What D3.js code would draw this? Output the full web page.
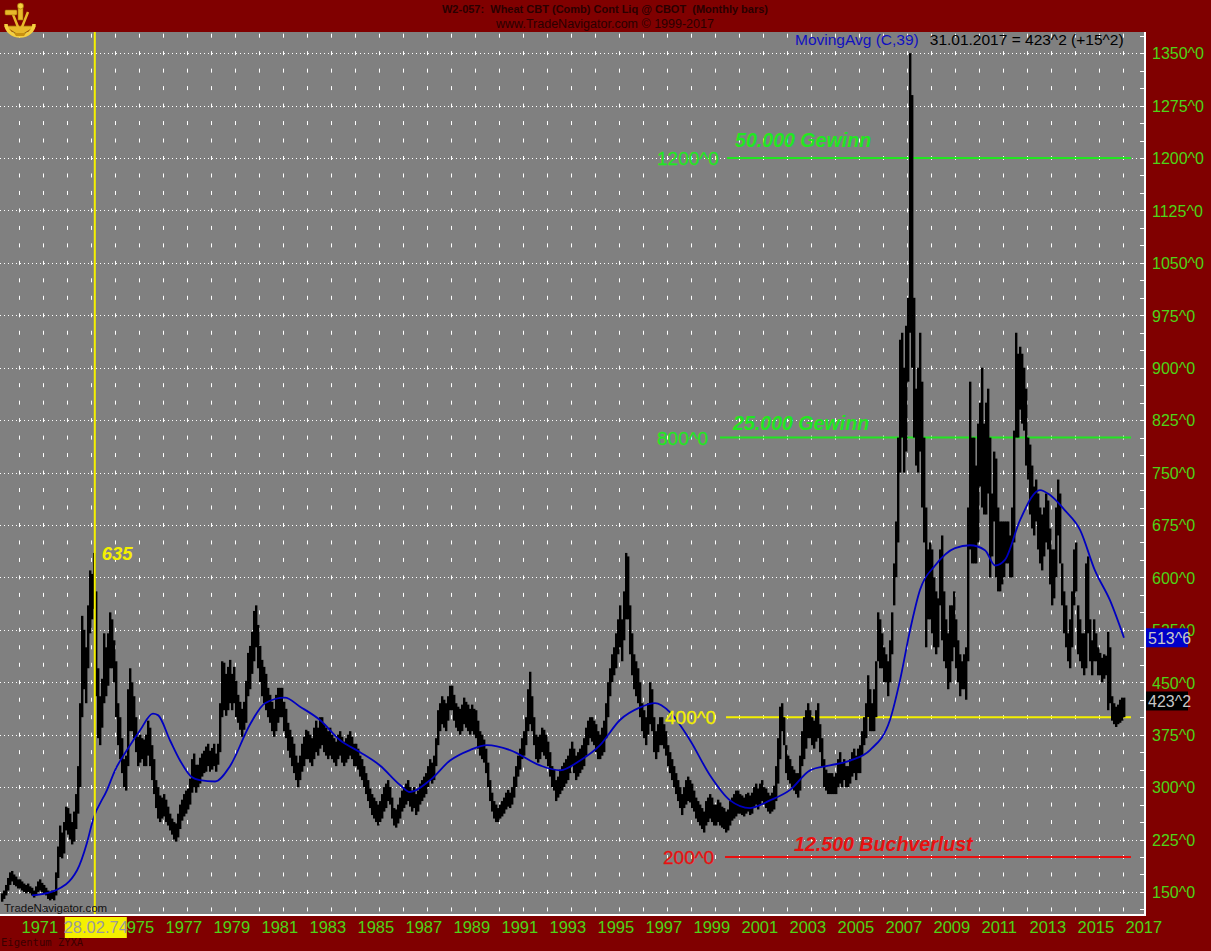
<!DOCTYPE html>
<html><head><meta charset="utf-8">
<script src="https://cdn.jsdelivr.net/npm/d3@7"></script>
<style>body{margin:0;background:#800000;overflow:hidden}svg{display:block}</style>
</head><body>
<script>
// ---- DATA (cents/bushel, monthly bars starting April 1970) ----
const startYear = 1970, startMonth = 3;
const lows = [
/*1970*/136,140,145,152,160,165,160,158,155,
/*1971*/155,152,150,148,150,148,145,142,145,150,152,150,
/*1972*/148,145,140,138,140,138,145,170,200,198,205,238,
/*1973*/232,225,218,222,240,262,300,400,440,420,470,520,
/*1974*/540,555,430,370,360,385,420,430,445,470,470,450,
/*1975*/400,360,340,320,300,295,330,380,380,370,350,330,
/*1976*/335,340,330,330,345,330,310,290,270,255,250,255,
/*1977*/258,250,245,238,232,225,222,228,240,252,258,262,
/*1978*/268,275,292,300,292,300,305,315,320,322,330,322,
/*1979*/325,330,322,332,350,400,410,402,410,420,410,420,
/*1980*/400,392,382,372,382,392,430,440,462,480,500,470,
/*1981*/450,430,420,410,400,392,380,372,380,392,400,400,
/*1982*/380,370,352,342,330,320,310,300,310,322,330,340,
/*1983*/340,335,330,340,350,345,355,360,350,345,340,345,
/*1984*/340,335,330,340,345,335,330,335,340,345,340,330,
/*1985*/330,325,315,310,300,290,280,270,260,255,250,245,
/*1986*/250,255,265,270,280,275,255,245,242,248,255,265,
/*1987*/270,275,280,272,265,270,260,265,275,280,285,290,
/*1988*/300,310,305,310,330,360,380,390,385,380,395,410,
/*1989*/410,395,385,380,375,380,390,385,380,375,380,375,
/*1990*/370,355,345,340,335,320,300,280,265,255,250,250,
/*1991*/255,258,262,268,272,270,275,285,300,315,325,340,
/*1992*/345,360,380,390,380,360,340,335,340,350,345,340,
/*1993*/330,315,300,295,280,285,290,295,300,305,310,320,
/*1994*/330,320,310,315,320,325,330,345,360,370,365,360,
/*1995*/350,340,340,345,350,370,400,430,450,460,470,490,
/*1996*/500,480,510,540,540,490,460,440,430,420,400,380,
/*1997*/370,360,375,390,380,350,340,350,360,360,355,345,
/*1998*/330,320,310,300,290,280,270,260,270,275,280,278,
/*1999*/270,265,255,250,245,240,235,245,250,255,250,245,
/*2000*/245,250,245,242,240,235,238,245,252,255,258,262,
/*2001*/262,260,258,262,265,260,262,270,275,268,275,280,
/*2002*/275,270,265,262,265,268,280,305,340,380,360,320,
/*2003*/310,305,300,295,290,285,295,330,340,355,370,370,
/*2004*/360,355,365,370,350,330,300,295,290,290,290,290,
/*2005*/290,300,305,300,310,300,300,305,315,320,310,320,
/*2006*/320,345,360,370,400,380,380,380,400,480,470,470,
/*2007*/450,450,430,450,490,560,600,650,750,800,750,780,
/*2008*/880,950,900,800,760,750,780,700,650,500,540,540,
/*2009*/520,500,490,500,560,510,480,470,440,450,480,500,
/*2010*/470,450,430,440,440,425,480,640,620,620,620,650,
/*2011*/730,700,690,690,720,600,630,680,600,580,580,590,
/*2012*/600,620,620,600,600,650,800,800,840,820,810,760,
/*2013*/740,690,670,660,680,640,620,610,630,650,640,590,
/*2014*/560,570,600,660,620,560,520,500,480,470,500,560,
/*2015*/580,490,480,470,460,470,520,480,460,480,480,460,
/*2016*/460,450,455,460,410,420,395,390,386,390,392,395,
/*2017*/400];
const highs = [
/*1970*/148,152,160,170,178,180,175,172,168,
/*1971*/168,165,162,160,162,158,156,152,158,165,168,163,
/*1972*/160,156,152,150,152,150,178,215,245,235,250,272,
/*1973*/270,262,250,265,290,330,420,545,525,500,560,610,
/*1974*/605,635,580,470,430,455,520,500,520,550,540,510,
/*1975*/480,420,400,370,340,345,440,470,450,430,400,372,
/*1976*/375,370,368,375,395,385,360,340,310,300,288,285,
/*1977*/290,282,272,262,255,250,248,262,275,282,290,295,
/*1978*/298,312,340,348,332,332,342,348,352,358,362,352,
/*1979*/356,362,348,362,420,480,478,462,472,482,462,472,
/*1980*/452,432,422,412,422,452,492,502,522,552,560,532,
/*1981*/502,482,472,462,442,432,422,412,432,442,442,442,
/*1982*/422,412,392,382,372,362,345,335,345,362,372,382,
/*1983*/380,375,370,385,395,385,400,400,390,385,380,385,
/*1984*/375,370,365,375,380,372,365,370,375,380,372,362,
/*1985*/362,355,345,340,330,320,310,298,290,285,280,275,
/*1986*/280,290,300,305,310,300,285,270,268,275,285,295,
/*1987*/300,305,310,300,295,300,290,295,305,310,315,320,
/*1988*/330,340,335,345,370,410,420,430,425,420,430,445,
/*1989*/445,432,420,415,412,418,428,422,418,412,418,412,
/*1990*/410,395,380,375,368,355,335,310,292,280,275,270,
/*1991*/275,280,285,292,296,292,300,315,330,345,355,370,
/*1992*/380,400,440,465,430,400,375,372,375,385,382,375,
/*1993*/365,350,330,325,310,315,325,330,335,340,345,355,
/*1994*/365,355,345,350,355,360,370,385,395,400,400,395,
/*1995*/390,380,375,385,395,420,450,470,490,500,520,540,
/*1996*/560,540,580,635,630,560,520,490,480,470,450,420,
/*1997*/410,400,420,450,440,400,380,390,400,400,390,380,
/*1998*/360,350,340,330,320,310,300,290,300,310,315,310,
/*1999*/305,295,285,280,275,270,265,280,285,290,285,275,
/*2000*/275,282,278,272,270,265,268,280,285,290,295,295,
/*2001*/290,288,285,290,292,288,292,300,305,298,305,310,
/*2002*/300,298,292,288,292,302,330,370,415,420,400,360,
/*2003*/345,340,330,325,320,320,345,380,400,410,420,410,
/*2004*/400,395,410,420,390,370,340,325,320,320,320,315,
/*2005*/320,340,350,335,340,330,330,340,350,355,345,355,
/*2006*/360,380,400,420,460,440,420,440,480,550,540,520,
/*2007*/500,490,480,510,550,620,680,800,940,950,900,960,
/*2008*/1000,1350,1290,1000,870,900,950,880,800,700,640,650,
/*2009*/640,600,580,570,640,660,580,540,520,560,560,580,
/*2010*/540,510,490,480,490,500,700,880,800,800,760,820,
/*2011*/850,900,820,850,870,800,720,780,770,700,680,680,
/*2012*/680,680,680,660,700,810,950,920,930,920,900,870,
/*2013*/800,790,760,730,740,720,700,690,700,720,710,670,
/*2014*/640,640,700,740,720,620,580,560,520,540,580,640,
/*2015*/650,560,540,520,520,620,630,540,510,540,520,500,
/*2016*/492,485,490,488,522,500,430,420,415,418,425,428,
/*2017*/428];
// 39-month moving average of close, read at points (decimal year -> value)
const maYears = [1971.54,1972.5,1973.42,1973.83,1974.08,1974.67,1975.0,1975.5,1976.04,1976.58,1976.79,1977.29,1977.71,1978.21,1978.54,1979.17,1979.79,1980.63,1981.25,1982.08,1982.71,1983.54,1984.38,1985.21,1986.04,1986.88,1987.29,1988.13,1988.96,1989.79,1990.5,1991.46,1992.71,1993.54,1994.38,1995.21,1996.04,1996.88,1997.5,1998.13,1998.96,1999.79,2000.63,2001.46,2002.29,2003.13,2003.96,2004.79,2005.63,2006.46,2007.29,2007.71,2008.13,2008.54,2009.17,2010.0,2010.63,2011.25,2011.67,2012.08,2012.71,2013.54,2013.96,2014.58,2015.21,2015.83,2016.46,2017.04];
const maValues = [145,152,181,220,253,296,324,353,381,405,403,367,338,314,310,308,330,390,420,428,415,396,367,350,331,303,293,310,338,353,360,353,331,324,338,360,396,414,420,407,367,317,281,270,281,296,324,331,338,353,396,453,525,582,617,642,646,639,617,625,682,725,718,696,668,610,567,513.6];
const yTickValues = [150,225,300,375,450,525,600,675,750,825,900,975,1050,1125,1200,1275,1350];
const xTickYears = [1971,1973,1975,1977,1979,1981,1983,1985,1987,1989,1991,1993,1995,1997,1999,2001,2003,2005,2007,2009,2011,2013,2015,2017];
const levelValues = [1200, 800, 400, 200];
const levelLabels = ["1200^0", "800^0", "400^0", "200^0"];
const levelNotes = ["50.000 Gewinn", "25.000 Gewinn", "", "12.500 Buchverlust"];
const markerDate = "28.02.74", markerYear = 1974 + 1.9/12, markerValue = 635;
const lastClose = 423.2, lastMA = 513.6;

// ---- LAYOUT ----
const W = 1211, H = 951;
const L = 0, R = 1145, T = 32, B = 915;
const FONT = "Liberation Sans, Arial, sans-serif";
const svg = d3.select("body").append("svg").attr("width", W).attr("height", H);
svg.append("rect").attr("width", W).attr("height", H).attr("fill", "#800000");
svg.append("rect").attr("x", L).attr("y", T).attr("width", R - L).attr("height", B - T).attr("fill", "#808080");

const x = d3.scaleLinear().domain([1971, 2017]).range([19, 1123]);
const y = d3.scaleLinear().domain([200, 1200]).range([857, 158]);

svg.append("clipPath").attr("id", "pc").append("rect")
  .attr("x", L).attr("y", T).attr("width", R - L).attr("height", B - T);
const plot = svg.append("g").attr("clip-path", "url(#pc)");

// grid: dotted horizontals at label levels
plot.append("g").selectAll("line").data(yTickValues).join("line")
  .attr("x1", L).attr("x2", R).attr("y1", d => Math.round(y(d)) + 0.5).attr("y2", d => Math.round(y(d)) + 0.5)
  .attr("stroke", "#fff").attr("stroke-width", 1).attr("stroke-dasharray", "1,3");
// grid: short vertical marks every year x every 25 units
const markYears = d3.range(1970, 2019);
const markVals = d3.range(125, 1400, 25);
const marks = [];
markYears.forEach(yr => markVals.forEach(v => marks.push([yr, v])));
plot.append("g").selectAll("line").data(marks).join("line")
  .attr("x1", d => Math.round(x(d[0])) + 0.5).attr("x2", d => Math.round(x(d[0])) + 0.5)
  .attr("y1", d => y(d[1]) - 2).attr("y2", d => y(d[1]) + 2)
  .attr("stroke", "#fff").attr("stroke-width", 1);

// horizontal level lines
const levelColors = ["#22e622", "#22e622", "#f4f000", "#e81010"];
const levelX1 = [727, 720, 726, 725];
levelValues.forEach((v, i) => {
  plot.append("line").attr("x1", levelX1[i]).attr("x2", 1131)
    .attr("y1", y(v)).attr("y2", y(v)).attr("stroke", levelColors[i]).attr("stroke-width", 2);
});

// price bars
const barData = lows.map((lo, i) => {
  const m = startMonth + i;
  return { t: startYear + m / 12, lo: lo, hi: highs[i] };
});
plot.append("g").selectAll("rect").data(barData).join("rect")
  .attr("x", d => x(d.t)).attr("width", 2.4)
  .attr("y", d => y(d.hi)).attr("height", d => Math.max(1, y(d.lo) - y(d.hi)))
  .attr("fill", "#000");

// moving average
const maPts = maYears.map((t, i) => [t, maValues[i]]);
plot.append("path").datum(maPts)
  .attr("d", d3.line().x(d => x(d[0])).y(d => y(d[1])).curve(d3.curveMonotoneX))
  .attr("fill", "none").attr("stroke", "#0000c0").attr("stroke-width", 1.8);

// vertical marker line
plot.append("line").attr("x1", x(markerYear)).attr("x2", x(markerYear))
  .attr("y1", T).attr("y2", B).attr("stroke", "#f4f000").attr("stroke-width", 2);
plot.append("text").attr("x", x(markerYear) + 7).attr("y", y(markerValue) + 7)
  .attr("fill", "#f4f000").attr("font-family", FONT)
  .attr("font-size", 18.5).attr("font-weight", "bold").attr("font-style", "italic").text(String(markerValue));

// level labels
const lvlLabelX = [657, 657, 665, 663];
levelValues.forEach((v, i) => {
  plot.append("text").attr("x", lvlLabelX[i]).attr("y", y(v) + 7)
    .attr("fill", levelColors[i]).attr("font-family", FONT)
    .attr("stroke", levelColors[i]).attr("stroke-width", 0.3)
    .attr("font-size", 19).text(levelLabels[i]);
});
const noteX = [735, 733, 0, 794];
const noteDy = [-11, -8, 0, -6];
levelValues.forEach((v, i) => {
  if (!levelNotes[i]) return;
  plot.append("text").attr("x", noteX[i]).attr("y", y(v) + noteDy[i])
    .attr("fill", levelColors[i]).attr("font-family", FONT)
    .attr("font-size", 19.6).attr("font-weight", "bold").attr("font-style", "italic").text(levelNotes[i]);
});

// legend top right
const leg = plot.append("text").attr("x", 795).attr("y", 45)
  .attr("font-family", FONT).attr("font-size", 15.5);
leg.append("tspan").attr("fill", "#1010c0").text("MovingAvg (C,39)");
leg.append("tspan").attr("fill", "#000").attr("dx", 11).text("31.01.2017 = 423^2 (+15^2)");

plot.append("text").attr("x", 4).attr("y", 912).attr("fill", "#111")
  .attr("font-family", FONT).attr("font-size", 11.5).text("TradeNavigator.com");

// borders
svg.append("line").attr("x1", R).attr("x2", R).attr("y1", T).attr("y2", B + 1).attr("stroke", "#fff").attr("stroke-width", 2);
svg.append("line").attr("x1", L).attr("x2", R + 1).attr("y1", B).attr("y2", B).attr("stroke", "#fff").attr("stroke-width", 2);
// right tick marks
svg.append("g").selectAll("line").data(d3.range(125, 1400, 25)).join("line")
  .attr("x1", R - 5).attr("x2", R).attr("y1", d => Math.round(y(d)) + 0.5).attr("y2", d => Math.round(y(d)) + 0.5)
  .attr("stroke", "#fff");

// y axis
const yAxis = svg.append("g").attr("transform", `translate(${R + 1},0)`)
  .call(d3.axisRight(y).tickValues(yTickValues).tickSize(0).tickPadding(6).tickFormat(d => d + "^0"));
yAxis.select(".domain").remove();
yAxis.selectAll("text").attr("fill", "#4ed418").attr("font-size", 16)
  .attr("font-family", FONT).attr("dy", "0.36em");

// x axis
const xAxis = svg.append("g").attr("transform", `translate(0,${B})`)
  .call(d3.axisBottom(x).tickValues(xTickYears).tickSize(0).tickFormat(d3.format("d")));
xAxis.select(".domain").remove();
xAxis.selectAll("text").attr("fill", "#4ed418").attr("font-size", 16.5)
  .attr("font-family", FONT)
  .attr("text-anchor", "start").attr("x", 2).attr("y", 18).attr("dy", 0);

// value boxes on right
svg.append("rect").attr("x", R + 1).attr("y", y(lastMA) - 9.5).attr("width", 42).attr("height", 19).attr("fill", "#0000c8");
svg.append("text").attr("x", R + 3).attr("y", y(lastMA) + 6).attr("fill", "#c8c8c8").attr("font-size", 16)
  .attr("font-family", FONT).text(String(lastMA).replace(".", "^"));
svg.append("rect").attr("x", R + 1).attr("y", y(lastClose) - 9.5).attr("width", 42).attr("height", 19).attr("fill", "#000");
svg.append("text").attr("x", R + 3).attr("y", y(lastClose) + 6).attr("fill", "#c8c8c8").attr("font-size", 16)
  .attr("font-family", FONT).text(String(lastClose).replace(".", "^"));

// marker date box
const mx = x(markerYear);
svg.append("rect").attr("x", mx - 30).attr("y", B + 2).attr("width", 62).attr("height", 21).attr("fill", "#f4f000");
svg.append("text").attr("x", mx + 1).attr("y", B + 18).attr("text-anchor", "middle").attr("fill", "#9a9a9a")
  .attr("font-size", 16.5).attr("font-family", FONT).text(markerDate);

// header
svg.append("text").attr("x", 605).attr("y", 13).attr("text-anchor", "middle").attr("fill", "#2a0000")
  .attr("font-size", 11).attr("font-weight", "bold").attr("font-family", FONT)
  .attr("xml:space", "preserve").text("W2-057:  Wheat CBT (Comb) Cont Liq @ CBOT  (Monthly bars)");
svg.append("text").attr("x", 605).attr("y", 28).attr("text-anchor", "middle").attr("fill", "#2a0000")
  .attr("font-size", 12.5).attr("font-family", FONT)
  .text("www.TradeNavigator.com © 1999-2017");
svg.append("text").attr("x", 1).attr("y", 946).attr("fill", "#3a0000")
  .attr("font-size", 10.5).attr("font-family", "DejaVu Sans Mono, Liberation Mono, monospace").text("Eigentum ZYXA");

// logo (golden sextant)
const logo = svg.append("g").attr("transform", "translate(2,2)");
const gold = "#e8b82a", dark = "#9a6a00";
logo.append("path").attr("d", "M2,24 L34,24 L18,34 Z").attr("fill", gold).attr("stroke", dark).attr("stroke-width", 0.8);
logo.append("path").attr("d", "M4,22 A14,12 0 0,0 32,22").attr("fill", "none").attr("stroke", "#f5cf40").attr("stroke-width", 3.5);
logo.append("path").attr("d", "M18,30 L10,10 M18,30 L26,10").attr("stroke", gold).attr("stroke-width", 2.5);
logo.append("rect").attr("x", 3).attr("y", 8).attr("width", 12).attr("height", 5).attr("rx", 1).attr("fill", gold).attr("stroke", dark).attr("stroke-width", 0.6);
logo.append("rect").attr("x", 16).attr("y", 2).attr("width", 5).attr("height", 16).attr("fill", gold).attr("stroke", dark).attr("stroke-width", 0.6);
logo.append("circle").attr("cx", 18.5).attr("cy", 4).attr("r", 3).attr("fill", "#f5d040").attr("stroke", dark).attr("stroke-width", 0.6);
logo.append("path").attr("d", "M12,31 L24,31 L22,34 L14,34 Z").attr("fill", "#c89010");
</script>
</body></html>
